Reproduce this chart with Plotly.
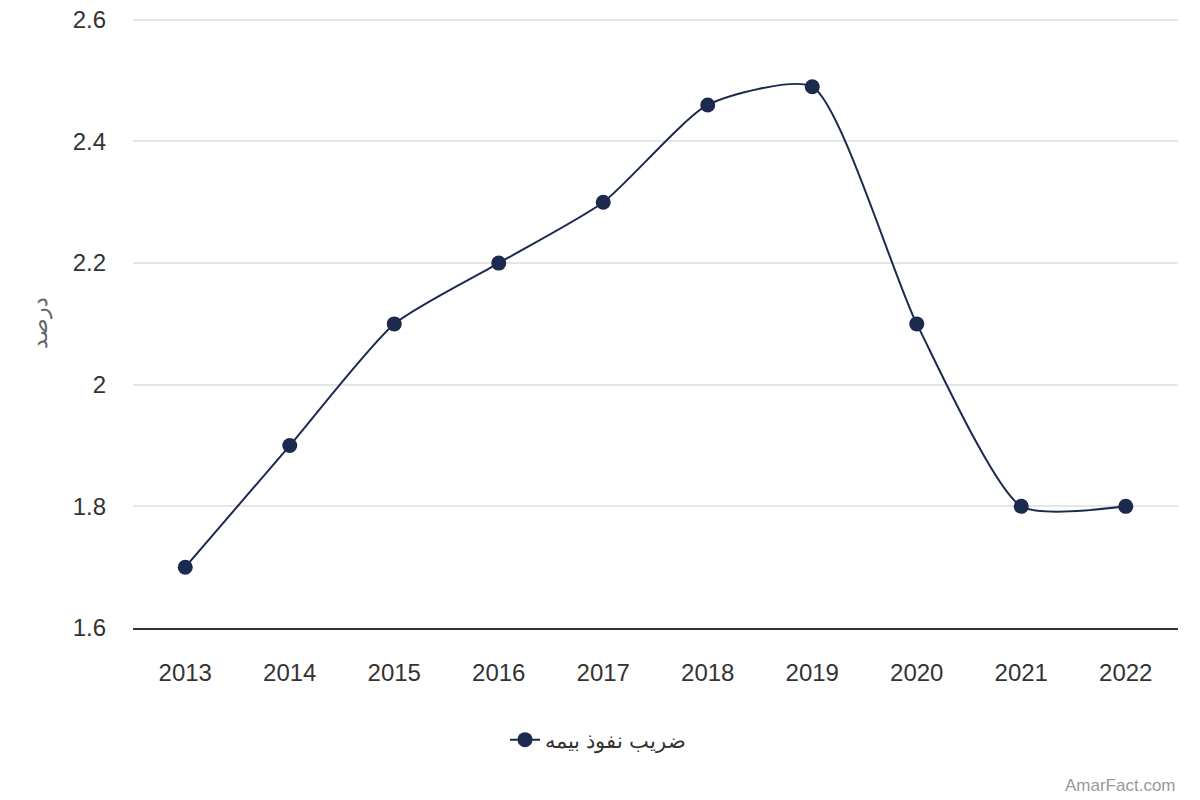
import plotly.graph_objects as go

years = ["2013", "2014", "2015", "2016", "2017", "2018", "2019", "2020", "2021", "2022"]
penetration = [1.7, 1.9, 2.1, 2.2, 2.3, 2.46, 2.49, 2.1, 1.8, 1.8]
y_ticks = [1.6, 1.8, 2.0, 2.2, 2.4, 2.6]
y_tick_text = ["1.6", "1.8", "2", "2.2", "2.4", "2.6"]

navy = "#1b2a4e"

fig = go.Figure()
fig.add_trace(go.Scatter(
    x=years, y=penetration,
    mode="lines+markers",
    name="ضریب نفوذ بیمه",
    line=dict(color=navy, width=2, shape="spline", smoothing=0.6),
    marker=dict(color=navy, size=15),
))

fig.update_layout(
    width=1200, height=800,
    margin=dict(l=125, r=30, t=10, b=180),
    paper_bgcolor="white", plot_bgcolor="white",
    font=dict(family="Liberation Sans, Arial, sans-serif", size=24, color="#333333"),
    showlegend=True,
    legend=dict(orientation="h", x=0.445, xanchor="center", y=-0.15, yanchor="top",
                font=dict(size=21, color="#333333")),
    xaxis=dict(type="category", range=[-0.5, 9.5], showgrid=False, automargin=False,
               showline=True, linecolor="#333333", linewidth=1.5,
               ticks="", ticklabelstandoff=22,
               tickfont=dict(size=24, color="#333333")),
    yaxis=dict(range=[1.6, 2.603], tickvals=y_ticks, ticktext=y_tick_text,
               showgrid=True, gridcolor="#e6e6e6", gridwidth=1.5, automargin=False,
               zeroline=False, showline=False, ticks="", ticklabelstandoff=26,
               ticklabeloverflow="allow",
               tickfont=dict(size=24, color="#333333")),
    annotations=[
        # y axis title
        dict(text="درصد", xref="paper", yref="paper", x=-0.089, y=0.5,
             xanchor="center", yanchor="middle", textangle=-90, showarrow=False,
             font=dict(size=22, color="#666666")),
        dict(text="AmarFact.com", xref="paper", yref="paper",
             x=1.0, y=-0.258, xanchor="right", yanchor="middle",
             showarrow=False, font=dict(size=17, color="#999999")),
    ],
)

fig.write_html("out.html")
